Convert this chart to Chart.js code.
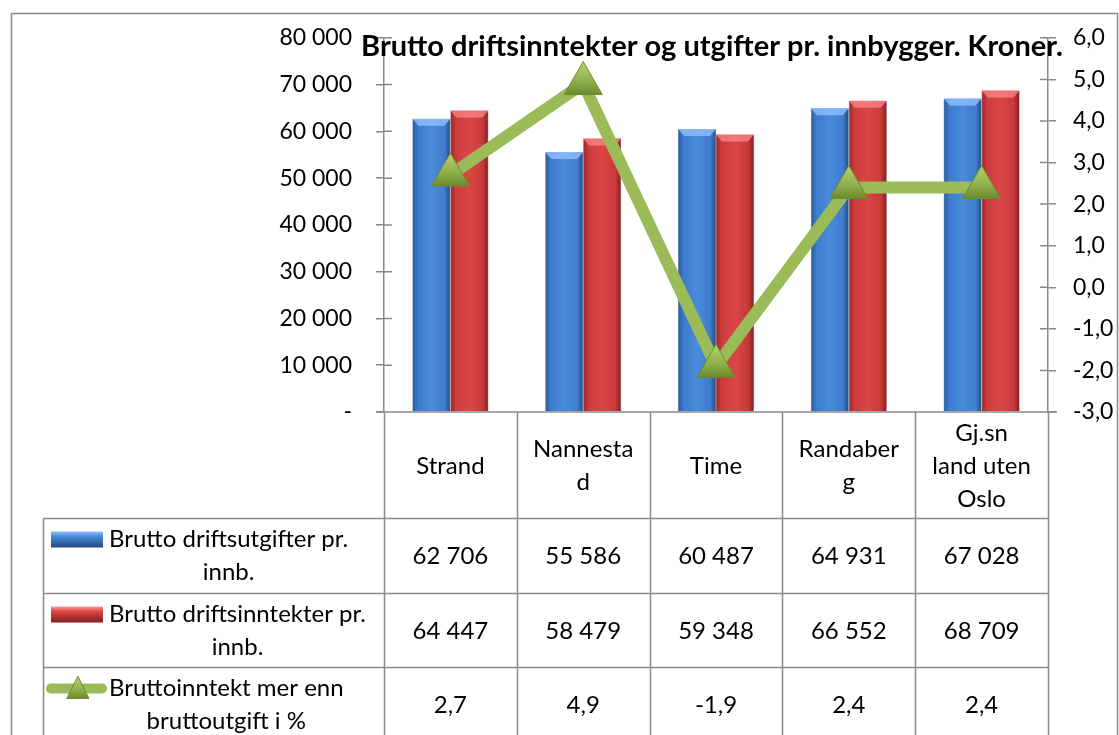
<!DOCTYPE html>
<html>
<head>
<meta charset="utf-8">
<script src="https://cdn.jsdelivr.net/npm/chart.js@4.4.1/dist/chart.umd.min.js"></script>
<style>
  html, body { margin: 0; padding: 0; background: #fff; }
  #wrap { position: relative; width: 1119px; height: 735px; }
</style>
</head>
<body>
<div id="wrap"><canvas id="chart"></canvas></div>
<script>
// data
const categories = [['Strand'], ['Nannesta', 'd'], ['Time'], ['Randaber', 'g'], ['Gj.sn', 'land uten', 'Oslo']];
const expenses = [62706, 55586, 60487, 64931, 67028];
const revenues = [64447, 58479, 59348, 66552, 68709];
const surplusPct = [2.7, 4.9, -1.9, 2.4, 2.4];
const seriesNames = [
    ['Brutto driftsutgifter pr.', 'innb.'],
    ['Brutto driftsinntekter pr.', 'innb.'],
    ['Bruttoinntekt mer enn', 'bruttoutgift i %']
];
const chartTitle = 'Brutto driftsinntekter og utgifter pr. innbygger. Kroner.';

const FONT = 'Lato, "Open Sans", sans-serif';
const GRID = '#898989';

const fmtNum = v => String(v).replace(/\B(?=(\d{3})+(?!\d))/g, ' ');
const fmtPct = v => v.toFixed(1).replace('.', ',');

const shades = {
    blue: ['#2a5a9e', '#3d7bcb', '#4a8bdc', '#3e7ccc', '#22497f'],
    red: ['#9c2626', '#cc3c3c', '#da4646', '#c83a3a', '#841d1d']
};

function hGrad(ctx, x0, x1, pal) {
    const g = ctx.createLinearGradient(x0, 0, x1, 0);
    g.addColorStop(0, pal[0]);
    g.addColorStop(0.15, pal[1]);
    g.addColorStop(0.5, pal[2]);
    g.addColorStop(0.85, pal[3]);
    g.addColorStop(1, pal[4]);
    return g;
}

function triGrad(ctx, y0, y1) {
    const g = ctx.createLinearGradient(0, y0, 0, y1);
    g.addColorStop(0, '#b5d46c');
    g.addColorStop(0.55, '#93b24f');
    g.addColorStop(1, '#6b8a2e');
    return g;
}

// bar / marker shading
const shading = {
    id: 'shading',
    beforeDatasetDraw(chart, args) {
        const meta = args.meta;
        const ctx = chart.ctx;
        if (meta.type === 'bar') {
            const pal = meta.index === 0 ? shades.blue : shades.red;
            meta.data.forEach(el => {
                el.options.backgroundColor = hGrad(ctx, el.x - el.width / 2, el.x + el.width / 2, pal);
            });
        } else {
            meta.data.forEach(el => {
                const r = el.options.radius;
                el.options.backgroundColor = triGrad(ctx, el.y - r, el.y + r / 2);
            });
        }
    },
    afterDatasetDraw(chart, args) {
        const meta = args.meta;
        if (meta.type !== 'bar') return;
        const ctx = chart.ctx;
        const light = meta.index === 0 ? 'rgba(150,195,255,0.75)' : 'rgba(255,140,140,0.7)';
        meta.data.forEach(el => {
            const l = el.x - el.width / 2, r = el.x + el.width / 2, t = el.y;
            ctx.save();
            ctx.fillStyle = light;
            ctx.beginPath();
            ctx.moveTo(l, t);
            ctx.lineTo(r, t);
            ctx.lineTo(r - 6, t + 7);
            ctx.lineTo(l + 6, t + 7);
            ctx.closePath();
            ctx.fill();
            ctx.restore();
        });
    }
};

// axis cross ticks, data table, title, frame
const excelTable = {
    id: 'excelTable',
    afterDraw(chart) {
        const ctx = chart.ctx;
        const area = chart.chartArea;
        const H = chart.height;
        const n = chart.data.labels.length;
        const colW = (area.right - area.left) / n;
        const headTop = area.bottom, headBot = 518.5;
        const rows = [518.5, 593.5, 667.5];
        const rowH = 74.5;
        const tableLeft = 43.5;

        ctx.save();
        ctx.strokeStyle = GRID;
        ctx.lineWidth = 1.5;

        // inner half of the axis tick marks
        ctx.beginPath();
        chart.scales.y.ticks.forEach(t => {
            const py = chart.scales.y.getPixelForValue(t.value);
            ctx.moveTo(area.left, py);
            ctx.lineTo(area.left + 8, py);
        });
        chart.scales.y1.ticks.forEach(t => {
            const py = chart.scales.y1.getPixelForValue(t.value);
            ctx.moveTo(area.right - 8, py);
            ctx.lineTo(area.right, py);
        });
        // category axis line
        ctx.moveTo(area.left - 8, area.bottom);
        ctx.lineTo(area.right + 9, area.bottom);
        // table grid
        for (let i = 0; i <= n; i++) {
            const px = Math.round(area.left + i * colW) + 0.5;
            ctx.moveTo(px, headTop);
            ctx.lineTo(px, H);
        }
        ctx.moveTo(tableLeft, headBot);
        ctx.lineTo(tableLeft, H);
        rows.forEach(ry => {
            ctx.moveTo(tableLeft, ry);
            ctx.lineTo(area.right, ry);
        });
        // outer frame
        ctx.moveTo(11.5, H + 5);
        ctx.lineTo(11.5, 13.5);
        ctx.lineTo(1117.5, 13.5);
        ctx.lineTo(1117.5, H + 5);
        ctx.stroke();

        // header labels
        ctx.fillStyle = '#000';
        ctx.font = '24px ' + FONT;
        ctx.textAlign = 'center';
        ctx.textBaseline = 'middle';
        const lineH = 33;
        const headMid = (headTop + headBot) / 2 + 1;
        chart.data.labels.forEach((lab, i) => {
            const cx = chart.scales.x.getPixelForValue(i);
            lab.forEach((s, k) => {
                ctx.fillText(s, cx, headMid + (k - (lab.length - 1) / 2) * lineH);
            });
        });

        // rows
        const rowData = [
            chart.data.datasets[0].data.map(fmtNum),
            chart.data.datasets[1].data.map(fmtNum),
            chart.data.datasets[2].data.map(fmtPct)
        ];
        rowData.forEach((vals, r) => {
            const top = rows[r];
            vals.forEach((s, i) => {
                ctx.fillText(s, chart.scales.x.getPixelForValue(i), top + rowH / 2 + 1);
            });
            const names = seriesNames[r];
            const maxW = Math.max(...names.map(s => ctx.measureText(s).width));
            const cx = 109 + maxW / 2;
            const ky = top + 21;
            names.forEach((s, k) => ctx.fillText(s, cx, ky + k * lineH));
            // legend key
            if (r < 2) {
                const pal = r === 0 ? shades.blue : shades.red;
                const g = ctx.createLinearGradient(0, ky - 8, 0, ky + 8);
                g.addColorStop(0, r === 0 ? '#8ec0ff' : '#ff9a9a');
                g.addColorStop(0.3, pal[2]);
                g.addColorStop(1, pal[4]);
                ctx.fillStyle = g;
                ctx.fillRect(51, ky - 8, 52, 16);
                ctx.fillStyle = '#000';
            } else {
                ctx.strokeStyle = '#9bbb59';
                ctx.lineWidth = 10;
                ctx.lineCap = 'round';
                ctx.beginPath();
                ctx.moveTo(51, ky);
                ctx.lineTo(102, ky);
                ctx.stroke();
                ctx.fillStyle = triGrad(ctx, ky - 12, ky + 10);
                ctx.strokeStyle = '#6f8b34';
                ctx.lineWidth = 1;
                ctx.beginPath();
                ctx.moveTo(78, ky - 12);
                ctx.lineTo(89, ky + 10);
                ctx.lineTo(67, ky + 10);
                ctx.closePath();
                ctx.fill();
                ctx.stroke();
                ctx.fillStyle = '#000';
            }
        });

        // title
        ctx.font = 'bold 29px ' + FONT;
        ctx.textBaseline = 'alphabetic';
        ctx.fillText(chartTitle, 712, 56);
        ctx.restore();
    }
};

const ctxChart = document.getElementById('chart').getContext('2d');
const chart = new Chart(ctxChart, {
    type: 'bar',
    data: {
        labels: categories,
        datasets: [
            {
                label: seriesNames[0].join(' '),
                data: expenses,
                yAxisID: 'y',
                order: 1,
                backgroundColor: () => '#3b77c6',
                borderColor: '#244d85',
                borderWidth: 0.5,
                categoryPercentage: 0.572,
                barPercentage: 1
            },
            {
                label: seriesNames[1].join(' '),
                data: revenues,
                yAxisID: 'y',
                order: 1,
                backgroundColor: () => '#c83a3a',
                borderColor: '#7d1c1c',
                borderWidth: 0.5,
                categoryPercentage: 0.572,
                barPercentage: 1
            },
            {
                type: 'line',
                label: seriesNames[2].join(' '),
                data: surplusPct,
                yAxisID: 'y1',
                order: 0,
                borderColor: '#9bbb59',
                borderWidth: 12,
                tension: 0,
                pointStyle: 'triangle',
                pointRadius: 22,
                pointHoverRadius: 22,
                pointBackgroundColor: () => '#93b24f',
                pointBorderColor: '#6f8b34',
                pointBorderWidth: 1
            }
        ]
    },
    options: {
        responsive: true,
        maintainAspectRatio: false,
        animation: false,
        layout: { padding: { top: 28, left: 0, right: 0, bottom: 0 } },
        plugins: {
            legend: { display: false },
            title: { display: false },
            tooltip: { enabled: false }
        },
        scales: {
            x: {
                offset: true,
                ticks: { display: false },
                grid: { display: false },
                border: { display: false },
                afterFit(s) { s.height = 323; }
            },
            y: {
                position: 'left',
                min: 0,
                max: 80000,
                ticks: {
                    stepSize: 10000,
                    padding: 24,
                    color: '#000',
                    font: { family: FONT, size: 23 },
                    callback: v => v === 0 ? '-' : fmtNum(v)
                },
                grid: { drawOnChartArea: false, tickLength: 8, color: GRID, lineWidth: 1.5 },
                border: { color: GRID, width: 1.5 },
                afterFit(s) { s.width = 384; }
            },
            y1: {
                position: 'right',
                min: -3,
                max: 6,
                ticks: {
                    stepSize: 1,
                    padding: 17,
                    color: '#000',
                    font: { family: FONT, size: 23 },
                    callback: v => fmtPct(v)
                },
                grid: { drawOnChartArea: false, tickLength: 8, color: GRID, lineWidth: 1.5 },
                border: { color: GRID, width: 1.5 },
                afterFit(s) { s.width = 71; }
            }
        }
    },
    plugins: [shading, excelTable]
});
</script>
</body>
</html>
